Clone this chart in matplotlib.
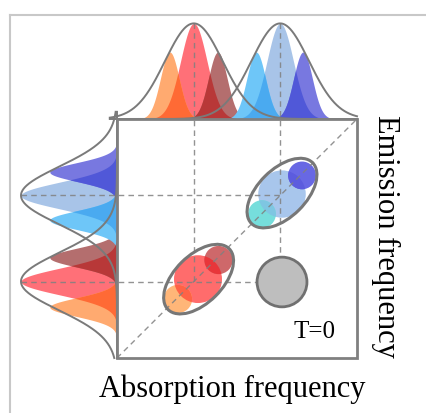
import numpy as np
import matplotlib
matplotlib.use("Agg")
import matplotlib.pyplot as plt
from matplotlib.patches import Ellipse, Circle, Rectangle

# ---------------- data ----------------
# marginal peaks (centre, height, width), in box units
groups = ["red", "blue"]
big_centers = [0.32, 0.68]
big_height_top = 0.40
big_height_left = 0.40
big_sigma = 0.055
big_colors = ["#FF7078", "#A8C4E8"]

small_centers_top = [[0.22, 0.42], [0.58, 0.775]]
small_centers_left = [[0.213, 0.42], [0.577, 0.778]]
small_height = 0.28
small_sigma = 0.039
small_colors = [["#FFAA70", "#B46E6E"], ["#6EC6F8", "#7878E0"]]
overlap_colors = [["#FF6A35", "#B83838"], ["#4AAAF0", "#5058D8"]]

env_centers = [0.32, 0.68]
env_sigma = 0.12
env_height = 0.40

# 2D spectrum: ellipses and circles
ellipse_centers = [(0.34, 0.33), (0.6875, 0.69)]
ellipse_size = (0.36, 0.20)
ellipse_angle = 45

main_circles = [((0.3375, 0.33), 0.100, "#FF6C6C"), ((0.6875, 0.686), 0.099, "#A8C6EC")]
side_circles = [
    [((0.254, 0.247), 0.059, "#FFB678", "#FF6246"), ((0.423, 0.41), 0.059, "#CE686A", "#E8363A")],
    [((0.604, 0.602), 0.058, "#76DEDC", "#7EC6E2"), ((0.771, 0.764), 0.058, "#6868E4", "#5C5CDE")],
]
gray_circle = ((0.6875, 0.318), 0.104)

grid_pos = [0.32, 0.68]
label_T = "T=0"
xlabel = "Absorption frequency"
ylabel = "Emission frequency"

# ---------------- figure ----------------
W, H = 426, 413
fig = plt.figure(figsize=(W / 100, H / 100), dpi=100)
ax = fig.add_axes([0, 0, 1, 1])
# box occupies pixels x 117..357, y 119..358
x0, sx = 117, 240
y0, sy = 358, 239
ax.set_xlim((0 - x0) / sx, (W - x0) / sx)
ax.set_ylim((y0 - H) / sy, (y0 - 0) / sy)
ax.axis("off")

def gauss(t, c, s, h):
    return h * np.exp(-(t - c) ** 2 / (2 * s * s))

serif = ["Liberation Serif", "DejaVu Serif"]
gray_line = "#808080"

# outer light frame (top and left)
fy = (y0 - 15) / sy
fx = (10 - x0) / sx
ax.plot([fx, 2], [fy, fy], color="#C8C8C8", lw=1.5, zorder=0)
ax.plot([fx, fx], [fy, -1], color="#C8C8C8", lw=1.5, zorder=0)

t = np.linspace(0, 1, 800)
# top marginal
for gi in range(2):
    big = gauss(t, big_centers[gi], big_sigma, big_height_top)
    ax.fill_between(t, 1, 1 + big, color=big_colors[gi], lw=0, zorder=1)
    for si in range(2):
        sm = gauss(t, small_centers_top[gi][si], small_sigma, small_height)
        ax.fill_between(t, 1, 1 + sm, color=small_colors[gi][si], lw=0, zorder=2)
        ax.fill_between(t, 1, 1 + np.minimum(big, sm), color=overlap_colors[gi][si], lw=0, zorder=3)
# left marginal
for gi in range(2):
    big = gauss(t, big_centers[gi], big_sigma, big_height_left)
    ax.fill_betweenx(t, -big, 0, color=big_colors[gi], lw=0, zorder=1)
    for si in range(2):
        sm = gauss(t, small_centers_left[gi][si], small_sigma, small_height)
        ax.fill_betweenx(t, -sm, 0, color=small_colors[gi][si], lw=0, zorder=2)
        ax.fill_betweenx(t, -np.minimum(big, sm), 0, color=overlap_colors[gi][si], lw=0, zorder=3)

# envelopes
te = np.linspace(-0.03, 1.0, 600)
tl = np.linspace(0.0, 1.03, 600)
for c in env_centers:
    ax.plot(te, 1 + gauss(te, c, env_sigma, env_height), color="#7A7A7A", lw=1.4, zorder=6)
    ax.plot(-gauss(tl, c, env_sigma, env_height), tl, color="#7A7A7A", lw=1.4, zorder=6)

# circles in the 2D plot
for gi in range(2):
    (cc, r, col) = main_circles[gi]
    mc = Circle(cc, r, facecolor=col, edgecolor="none", zorder=4)
    ax.add_patch(mc)
    for (sc, sr, scol, ocol) in side_circles[gi]:
        ax.add_patch(Circle(sc, sr, facecolor=scol, edgecolor="none", zorder=4))
        ov = Circle(sc, sr, facecolor=ocol, edgecolor="none", zorder=4.5)
        ax.add_patch(ov)
        ov.set_clip_path(mc)

# dashed guide lines
dash = dict(color=gray_line, lw=1.0, ls=(0, (4, 3)), zorder=5, alpha=0.85)
peak_top = 1 + env_height
peak_left = -env_height
for p in grid_pos:
    ax.plot([p, p], [peak_top, grid_pos[0]], **dash)
    ax.plot([peak_left, grid_pos[1]], [p, p], **dash)
ax.plot([0, 1], [0, 1], **dash)

# ellipses
for ec in ellipse_centers:
    ax.add_patch(Ellipse(ec, ellipse_size[0], ellipse_size[1], angle=ellipse_angle,
                         facecolor="none", edgecolor="#777777", lw=2.2, zorder=7))

# gray circle
ax.add_patch(Circle(gray_circle[0], gray_circle[1], facecolor="#BEBEBE",
                    edgecolor="#707070", lw=2.0, zorder=7))

# box
ax.add_patch(Rectangle((0, 0), 1, 1, facecolor="none", edgecolor="#808080", lw=2.0, zorder=8))

# texts
ax.text(0.825, 0.109, label_T, family=serif, fontsize=18, ha="center", va="center", zorder=9)
ax.text(0.481, -0.163, xlabel, family=serif, fontsize=22, ha="center", va="baseline", zorder=9)
ax.text(1.117, 0.51, ylabel, family=serif, fontsize=22, ha="center", va="center",
        rotation=-90, zorder=9)

fig.savefig("out.png", dpi=100)
